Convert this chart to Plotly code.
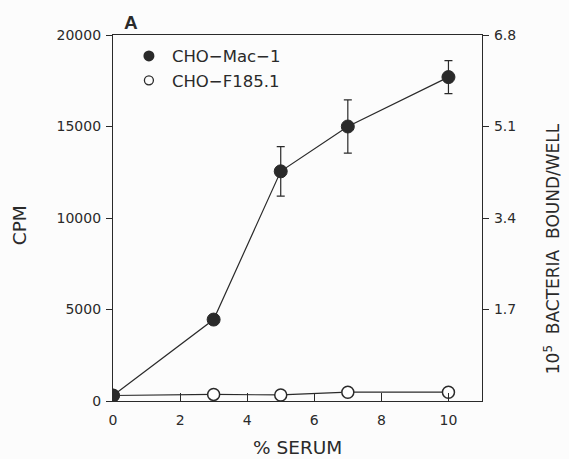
import plotly.graph_objects as go

# % serum concentrations
serum = [0, 3, 5, 7, 10]

# CPM for CHO-Mac-1 cells, with standard errors
mac1_cpm = [300, 4450, 12550, 15000, 17700]
mac1_err = [0, 0, 1350, 1450, 900]

# CPM for CHO-F185.1 cells
f185_cpm = [300, 360, 330, 480, 480]

# right-hand scale: 20000 CPM corresponds to 6.8 x 10^5 bacteria
right_ticks = [1.7, 3.4, 5.1, 6.8]
left_ticks = [0, 5000, 10000, 15000, 20000]
x_ticks = [0, 2, 4, 6, 8, 10]

FONT = "DejaVu Sans"
INK = "#2a2a2a"

fig = go.Figure()

fig.add_trace(go.Scatter(
    x=serum, y=f185_cpm, mode="lines+markers", showlegend=False,
    line=dict(color=INK, width=1.2),
    marker=dict(symbol="circle", size=12, color="white",
                line=dict(color=INK, width=1.5)),
))

fig.add_trace(go.Scatter(
    x=serum, y=mac1_cpm, mode="lines+markers", showlegend=False,
    line=dict(color=INK, width=1.2),
    marker=dict(symbol="circle", size=13, color=INK,
                line=dict(color=INK, width=1)),
    error_y=dict(type="data", array=mac1_err, visible=True,
                 color=INK, thickness=1.2, width=4),
))

# legend entries (markers only)
fig.add_trace(go.Scatter(
    x=[None], y=[None], mode="markers", name="CHO\u2212Mac\u22121",
    marker=dict(symbol="circle", size=11, color=INK),
))
fig.add_trace(go.Scatter(
    x=[None], y=[None], mode="markers", name="CHO\u2212F185.1",
    marker=dict(symbol="circle-open", size=9, color=INK, line=dict(width=1.3)),
))

# invisible trace to carry the right-hand axis
fig.add_trace(go.Scatter(
    x=[None], y=[None], yaxis="y2", showlegend=False, hoverinfo="skip",
))

fig.update_layout(
    width=569, height=459,
    margin=dict(l=113, r=87, t=35, b=58),
    paper_bgcolor="#fcfcfc", plot_bgcolor="#fcfcfc",
    font=dict(family=FONT, size=14, color=INK),
    xaxis=dict(
        range=[0, 11], tickvals=x_ticks, ticks="inside", ticklen=8,
        tickwidth=1, tickcolor=INK, showline=True, linecolor=INK,
        linewidth=1.2, mirror=True, showgrid=False, zeroline=False,
        ticklabelstandoff=6,
    ),
    yaxis=dict(
        range=[0, 20000], tickvals=left_ticks,
        ticktext=[str(v) for v in left_ticks], ticks="outside", ticklen=6,
        tickwidth=1, tickcolor=INK, showline=True, linecolor=INK,
        linewidth=1.2, showgrid=False, zeroline=False, ticklabelstandoff=2,
    ),
    yaxis2=dict(
        range=[0, 6.8], tickvals=right_ticks,
        ticktext=[f"{v:.1f}" for v in right_ticks],
        overlaying="y", side="right", ticks="outside", ticklen=6,
        tickwidth=1, tickcolor=INK, showline=True, linecolor=INK,
        linewidth=1.2, showgrid=False, zeroline=False, ticklabelstandoff=2,
    ),
    legend=dict(
        x=0.035, y=0.99, xanchor="left", yanchor="top",
        bgcolor="rgba(0,0,0,0)", font=dict(size=16.5, family=FONT),
        tracegroupgap=0, itemwidth=36,
    ),
    showlegend=True,
    annotations=[
        dict(text="<b>A</b>", xref="paper", yref="paper", x=0.05, y=1.0,
             xanchor="center", yanchor="bottom", showarrow=False,
             font=dict(size=19, family="Liberation Sans")),
        dict(text="CPM", xref="paper", yref="paper", x=-0.255, y=0.48,
             xanchor="center", yanchor="middle", textangle=-90,
             showarrow=False, font=dict(size=18.5)),
        dict(text="% SERUM", xref="paper", yref="paper", x=0.5, y=-0.128,
             xanchor="center", yanchor="middle", showarrow=False,
             font=dict(size=18.5)),
        dict(text="10<sup>5</sup>  BACTERIA  BOUND/WELL", xref="paper",
             yref="paper", x=1.19, y=0.415, xanchor="center",
             yanchor="middle", textangle=-90, showarrow=False,
             font=dict(size=17)),
    ],
)

fig.write_html("out.html")
